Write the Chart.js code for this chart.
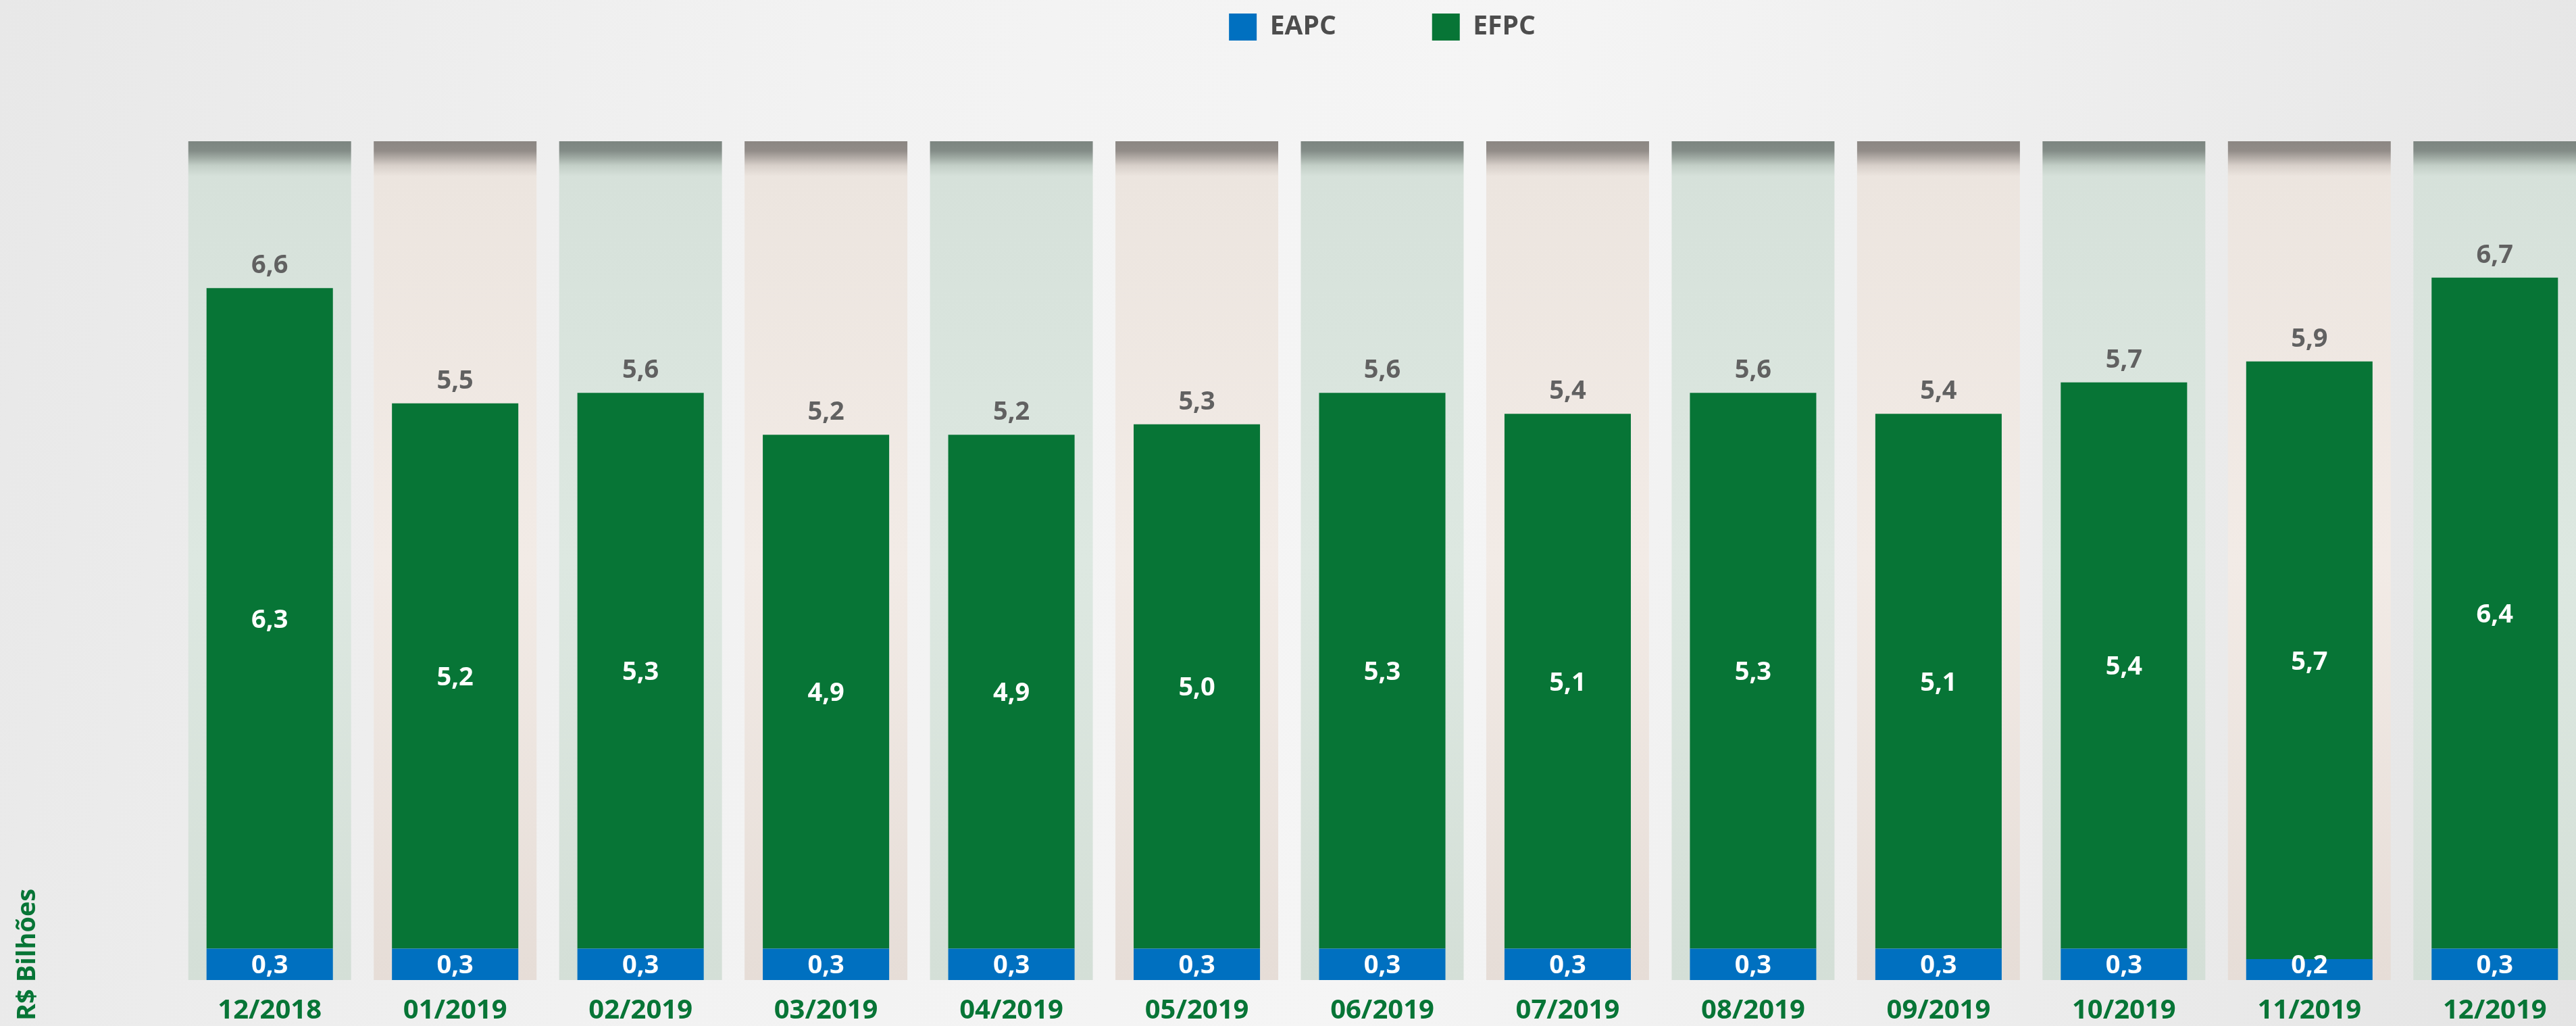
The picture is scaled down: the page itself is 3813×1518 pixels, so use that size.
<!DOCTYPE html>
<html>
<head>
<meta charset="utf-8">
<script src="https://cdn.jsdelivr.net/npm/chart.js@4"></script>
<style>
html, body { margin: 0; padding: 0; overflow: hidden; width: 3813px; height: 1518px; }
body { background: linear-gradient(100deg, #e8e8e8 0%, #f2f2f2 30%, #f5f5f5 55%, #ececec 80%, #e4e4e4 100%); }
canvas { display: block; }
</style>
</head>
<body>
<canvas id="c" width="3830" height="1518"></canvas>
<script>
const categories = ['12/2018','01/2019','02/2019','03/2019','04/2019','05/2019','06/2019','07/2019','08/2019','09/2019','10/2019','11/2019','12/2019'];
const eapc = [0.3, 0.3, 0.3, 0.3, 0.3, 0.3, 0.3, 0.3, 0.3, 0.3, 0.3, 0.2, 0.3];
const efpc = [6.3, 5.2, 5.3, 4.9, 4.9, 5.0, 5.3, 5.1, 5.3, 5.1, 5.4, 5.7, 6.4];
const seriesNames = ['EAPC', 'EFPC'];
const columnTop = 8;
const yAxisTitle = 'R$ Bilhões';

const FONT = "'Open Sans', 'DejaVu Sans', sans-serif";
const fmt = v => v.toFixed(1).replace('.', ',');

const columnFill = (c) => {
  const chart = c.chart;
  const { ctx, chartArea, scales } = chart;
  const even = c.dataIndex % 2 === 0;
  if (!chartArea) return even ? '#d9e4dd' : '#efe7e1';
  const top = scales.y.getPixelForValue(columnTop);
  const bottom = scales.y.getPixelForValue(0);
  const g = ctx.createLinearGradient(0, top, 0, bottom);
  const h = bottom - top;
  const s = p => Math.min(1, p / h);
  if (even) {
    g.addColorStop(0, '#7c8580');
    g.addColorStop(s(14), '#838c87');
    g.addColorStop(s(24), '#9ea9a2');
    g.addColorStop(s(36), '#c3cfc7');
    g.addColorStop(s(52), '#d6e1da');
    g.addColorStop(0.5, '#dde8e1');
    g.addColorStop(1, '#d4dfd7');
  } else {
    g.addColorStop(0, '#8b8682');
    g.addColorStop(s(14), '#928c88');
    g.addColorStop(s(24), '#b1aaa5');
    g.addColorStop(s(36), '#d8d0ca');
    g.addColorStop(s(52), '#ece5df');
    g.addColorStop(0.5, '#f2ebe6');
    g.addColorStop(1, '#e6ddd7');
  }
  return g;
};

const labelPlugin = {
  id: 'valueLabels',
  afterDatasetsDraw(chart) {
    const ctx = chart.ctx;
    ctx.save();
    ctx.font = 'bold 38px ' + FONT;
    ctx.textAlign = 'center';
    ctx.textBaseline = 'middle';
    ctx.fillStyle = '#ffffff';
    // EAPC labels anchored near the base of the bar
    const m0 = chart.getDatasetMeta(0);
    m0.data.forEach((el, i) => {
      const p = el.getProps(['x', 'y', 'base'], true);
      ctx.fillText(fmt(eapc[i]), p.x, p.base - 21);
    });
    // EFPC labels centred in their segment
    const m1 = chart.getDatasetMeta(1);
    m1.data.forEach((el, i) => {
      const p = el.getProps(['x', 'y', 'base'], true);
      ctx.fillText(fmt(efpc[i]), p.x, (p.y + p.base) / 2 + 3);
    });
    // totals above the stacks
    ctx.fillStyle = '#616161';
    ctx.textBaseline = 'alphabetic';
    m1.data.forEach((el, i) => {
      const total = eapc[i] + efpc[i];
      const yTop = chart.scales.y.getPixelForValue(total);
      ctx.fillText(fmt(total), el.x, yTop - 22);
    });
    // vertical axis title
    ctx.fillStyle = '#077536';
    ctx.textAlign = 'left';
    ctx.translate(52, chart.height - 8);
    ctx.rotate(-Math.PI / 2);
    ctx.fillText(yAxisTitle, 0, 0);
    ctx.restore();
  }
};

new Chart(document.getElementById('c'), {
  type: 'bar',
  data: {
    labels: categories,
    datasets: [
      {
        label: seriesNames[0], data: eapc, stack: 'main', order: 0,
        backgroundColor: '#0070c0', borderWidth: 0,
        barPercentage: 0.6815, categoryPercentage: 1
      },
      {
        label: seriesNames[1], data: efpc, stack: 'main', order: 0,
        backgroundColor: '#077536', borderWidth: 0,
        barPercentage: 0.6815, categoryPercentage: 1
      },
      {
        label: 'fundo', data: categories.map(() => columnTop), stack: 'bg', order: 10,
        grouped: false, backgroundColor: columnFill, borderWidth: 0,
        barPercentage: 0.878, categoryPercentage: 1
      }
    ]
  },
  options: {
    responsive: false,
    animation: false,
    events: [],
    layout: { padding: { top: -122, bottom: -24, left: 0, right: 0 } },
    plugins: {
      legend: {
        position: 'top', fullSize: false, align: 'center',
        labels: {
          boxWidth: 41, boxHeight: 40, padding: 142, color: '#4d4d4d',
          font: { family: FONT, size: 39, weight: 'bold' },
          filter: item => item.datasetIndex < 2
        }
      },
      title: {
        display: true, text: '', position: 'top', weight: 500,
        font: { size: 10, lineHeight: 1 }, padding: { top: 0, bottom: 129 }
      },
      tooltip: { enabled: false }
    },
    scales: {
      x: {
        stacked: true, offset: true,
        grid: { display: false, drawTicks: false },
        border: { display: false },
        ticks: {
          color: '#077536', padding: 22, maxRotation: 0, autoSkip: false,
          font: { family: FONT, size: 40, weight: 'bold', lineHeight: 1.2 }
        }
      },
      y: {
        stacked: true, min: 0, max: columnTop,
        grid: { display: false, drawTicks: false },
        border: { display: false },
        ticks: { display: false },
        afterFit: s => { s.width = 262; }
      }
    }
  },
  plugins: [labelPlugin]
});
</script>
</body>
</html>
